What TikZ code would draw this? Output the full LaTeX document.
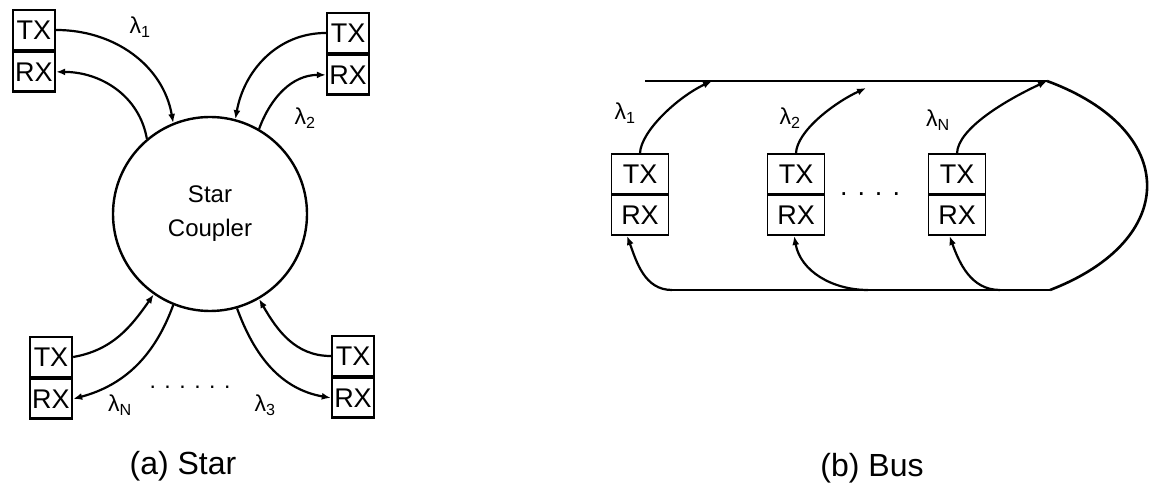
\documentclass[tikz,border=0pt]{standalone}
\usepackage{fontspec}
\setmainfont{Liberation Sans}
\usepackage{tikz}
\usetikzlibrary{arrows.meta,positioning}

\newcommand{\wavelen}[1]{λ\textsubscript{#1}}

\begin{document}
\begin{tikzpicture}[
    x=1pt, y=1pt,
    font=\fontsize{27}{28}\selectfont,
    trxbox/.style={rectangle, draw, line width=2.4pt, minimum width=42pt, minimum height=39.5pt, inner sep=0pt},
    busbox/.style={trxbox, minimum width=57pt, line width=1.8pt},
    coupler/.style={circle, draw, line width=2.4pt, minimum size=194pt, align=center, font=\fontsize{24}{34}\selectfont},
    arrow/.style={-{Latex[length=9pt,width=7pt]}, line width=2.2pt},
    fiber/.style={line width=2.6pt},
    lbl/.style={font=\fontsize{23}{24}\selectfont},
    caption/.style={font=\fontsize{32}{34}\selectfont}
]
    \useasboundingbox (0,0) rectangle (1151,490);

    % (a) star
    \node (sc) [coupler] at (210,276) {Star\\Coupler};
    \node (t1) [trxbox] at (34,460) {TX};
    \node (r1) [trxbox, below=0pt of t1] {RX};
    \node (t2) [trxbox] at (348,457) {TX};
    \node (r2) [trxbox, below=0pt of t2] {RX};
    \node (t3) [trxbox] at (51,133) {TX};
    \node (r3) [trxbox, below=0pt of t3] {RX};
    \node (t4) [trxbox] at (353,134) {TX};
    \node (r4) [trxbox, below=0pt of t4] {RX};

    \draw [arrow] (t1.east) to[out=0, in=100] (sc.112);
    \draw [arrow] (sc.130) to[out=100, in=0] (r1.east);
    \draw [arrow] (t2.west) to[out=180, in=80] (sc.75);
    \draw [arrow] (sc.60) to[out=70, in=180] (r2.west);
    \draw [arrow] (t3.east) to[out=10, in=235] (sc.235);
    \draw [arrow] (sc.248) to[out=250, in=15] (r3.east);
    \draw [arrow] (t4.west) to[out=180, in=300] (sc.300);
    \draw [arrow] (sc.286) to[out=290, in=170] (r4.west);

    \node (l1) [lbl] at (140,463) {\wavelen{1}};
    \node (l2) [lbl] at (305,372) {\wavelen{2}};
    \node (lN) [lbl] at (120,85) {\wavelen{N}};
    \node (l3) [lbl] at (265,85) {\wavelen{3}};
    \node (d1) [lbl] at (190,103) {. . . . . .};
    \node (ca) [caption] at (183,24) {(a) Star};

    % (b) bus
    \coordinate (tl) at (645,409);
    \coordinate (tr) at (1047,409);
    \coordinate (bl) at (672,200);
    \coordinate (br) at (1050,200);
    \coordinate (a1) at (712,409);
    \coordinate (a2) at (866,402);
    \coordinate (b2) at (868,200);
    \coordinate (b3) at (1000,200);

    \node (u1) [busbox] at (640,316) {TX};
    \node (v1) [busbox, below=0pt of u1] {RX};
    \node (u2) [busbox] at (796,316) {TX};
    \node (v2) [busbox, below=0pt of u2] {RX};
    \node (u3) [busbox] at (957,316) {TX};
    \node (v3) [busbox, below=0pt of u3] {RX};

    \draw [fiber] (tl) -- (tr);
    \draw [fiber] (bl) -- (br);
    \draw [fiber] (tr) .. controls (1180,360) and (1180,250) .. (br);

    \draw [arrow] (u1.north) to[out=88, in=205, out distance=22pt, in distance=38pt] (a1);
    \draw [arrow] (u2.north) to[out=88, in=205, out distance=22pt, in distance=36pt] (a2);
    \draw [arrow] (u3.north) to[out=88, in=205, out distance=25pt, in distance=45pt] (tr);
    \draw [arrow] (bl) to[out=180, in=-70] (v1.238);
    \draw [arrow] (b2) to[out=180, in=-80] (v2.265);
    \draw [arrow] (b3) to[out=180, in=-70] (v3.250);

    \node (m1) [lbl] at (625,377) {\wavelen{1}};
    \node (m2) [lbl] at (790,372) {\wavelen{2}};
    \node (mN) [lbl] at (938,370) {\wavelen{N}};
    \node (d2) at (870,296) {. . . .};
    \node (cb) [caption] at (872,22) {(b) Bus};
\end{tikzpicture}
\end{document}
